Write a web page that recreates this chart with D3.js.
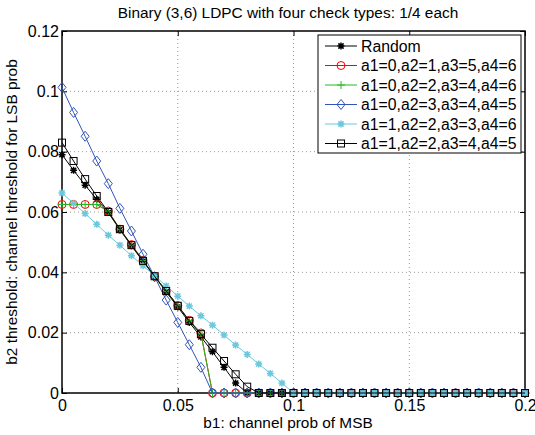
<!DOCTYPE html>
<html><head><meta charset="utf-8">
<script src="https://cdn.jsdelivr.net/npm/d3@7"></script>
<style>
body{margin:0;background:#fff;}
text{font-family:"Liberation Sans",Arial,Helvetica,sans-serif;}
</style></head>
<body><svg id="c" width="535" height="435"></svg>
<script>
const xValues = d3.range(0, 41).map(i => +(i * 0.005).toFixed(3));
const zeros = n => new Array(n).fill(0);
const randomVals = [0.079,0.0738,0.0689,0.0642,0.0598,0.0541,0.0488,0.0436,0.0386,0.0335,0.0285,0.0234,0.0186,0.0137,0.0085,0.0033].concat(zeros(25));
const s1Vals = [0.0625,0.0625,0.0625,0.0625,0.0603,0.0543,0.0492,0.044,0.0387,0.0338,0.029,0.0241,0.0199].concat(zeros(28));
const s2Vals = [0.0625,0.0625,0.0625,0.0625,0.0601,0.0542,0.049,0.0439,0.0387,0.0337,0.0289,0.024,0.0196].concat(zeros(28));
const s3Vals = [0.1013,0.093,0.0851,0.0769,0.0694,0.0612,0.0537,0.046,0.0385,0.0308,0.0234,0.016,0.0085].concat(zeros(28));
const s4Vals = [0.0663,0.0629,0.0595,0.0559,0.0523,0.049,0.0455,0.0422,0.0389,0.0355,0.0321,0.0288,0.0256,0.0225,0.0192,0.0159,0.0128,0.0096,0.0065,0.0033].concat(zeros(21));
const s5Vals = [0.083,0.0769,0.0709,0.0653,0.06,0.0543,0.049,0.0438,0.0387,0.0338,0.0289,0.0239,0.0195,0.015,0.0106,0.0062,0.0021].concat(zeros(24));
const seriesNames = ["Random","a1=0,a2=1,a3=5,a4=6","a1=0,a2=2,a3=4,a4=6","a1=0,a2=3,a3=4,a4=5","a1=1,a2=2,a3=3,a4=6","a1=1,a2=2,a3=4,a4=5"];
const seriesColors = ["#000000","#ff0000","#22bb22","#3355bb","#6cc8dc","#000000"];
const seriesMarkers = ["star","circle","plus","diamond","star","square"];
const xTicks = [0,0.05,0.1,0.15,0.2];
const xTickLabels = ["0","0.05","0.1","0.15","0.2"];
const yTicks = [0,0.02,0.04,0.06,0.08,0.1,0.12];
const yTickLabels = ["0","0.02","0.04","0.06","0.08","0.1","0.12"];
const titleText = "Binary (3,6) LDPC with four check types: 1/4 each";
const xLabel = "b1: channel prob of MSB";
const yLabel = "b2 threshold: channel threshold for LSB prob";

const allVals = [randomVals,s1Vals,s2Vals,s3Vals,s4Vals,s5Vals];
const svg = d3.select("#c");
const L=62, R=525, T=31, B=393;
const x = d3.scaleLinear().domain([0,0.2]).range([L,R]);
const y = d3.scaleLinear().domain([0,0.12]).range([B,T]);

// grid
const g = svg.append("g");
xTicks.forEach(t=>{ if(t>0&&t<0.2) g.append("line").attr("x1",x(t)).attr("x2",x(t)).attr("y1",T).attr("y2",B).attr("stroke","#999").attr("stroke-dasharray","1,3"); });
yTicks.forEach(t=>{ if(t>0&&t<0.12) g.append("line").attr("y1",y(t)).attr("y2",y(t)).attr("x1",L).attr("x2",R).attr("stroke","#999").attr("stroke-dasharray","1,3"); });

// axes
const fmtX = (d)=>xTickLabels[xTicks.indexOf(d)];
const fmtY = (d)=>yTickLabels[yTicks.indexOf(d)];
const ax = svg.append("g").attr("transform",`translate(0,${B})`).call(d3.axisBottom(x).tickValues(xTicks).tickFormat(fmtX).tickSizeInner(-5).tickSizeOuter(0).tickPadding(7));
const ay = svg.append("g").attr("transform",`translate(${L},0)`).call(d3.axisLeft(y).tickValues(yTicks).tickFormat(fmtY).tickSizeInner(-5).tickSizeOuter(0).tickPadding(3));
const axT = svg.append("g").attr("transform",`translate(0,${T})`).call(d3.axisTop(x).tickValues(xTicks).tickFormat("").tickSizeInner(-5).tickSizeOuter(0));
const ayR = svg.append("g").attr("transform",`translate(${R},0)`).call(d3.axisRight(y).tickValues(yTicks).tickFormat("").tickSizeInner(-5).tickSizeOuter(0));
[ax,ay,axT,ayR].forEach(a=>{ a.select(".domain").remove(); a.selectAll("text").attr("font-size",16).attr("fill","#000").style("font-family","'Liberation Sans',Arial,sans-serif"); a.selectAll("line").attr("stroke","#000"); });
svg.append("rect").attr("x",L).attr("y",T).attr("width",R-L).attr("height",B-T).attr("fill","none").attr("stroke","#000").attr("stroke-width",1.5);

// markers
function marker(sel, type, color, cx, cy){
  const m = sel.append("g").attr("transform",`translate(${cx},${cy})`).attr("stroke",color).attr("fill","none").attr("stroke-width",1);
  if(type==="circle") m.append("circle").attr("r",4);
  else if(type==="square") m.append("rect").attr("x",-3.5).attr("y",-3.5).attr("width",7).attr("height",7);
  else if(type==="diamond") m.append("path").attr("d","M0,-5L4,0L0,5L-4,0Z");
  else if(type==="plus") m.append("path").attr("d","M-4,0H4M0,-4V4");
  else if(type==="star") m.append("path").attr("d","M-3.5,0H3.5M0,-3.5V3.5M-2.6,-2.6L2.6,2.6M-2.6,2.6L2.6,-2.6").attr("stroke-width",1.5);
}
const line = d3.line().x((d,i)=>x(xValues[i])).y(d=>y(d));
allVals.forEach((vals,k)=>{
  const sg = svg.append("g");
  sg.append("path").attr("d",line(vals)).attr("fill","none").attr("stroke",seriesColors[k]).attr("stroke-width",1);
  vals.forEach((v,i)=>marker(sg, seriesMarkers[k], seriesColors[k], x(xValues[i]), y(v)));
});

// legend
const lg = svg.append("g");
lg.append("rect").attr("x",318).attr("y",35).attr("width",203).attr("height",118).attr("fill","#fff").attr("stroke","#000").attr("stroke-width",1);
seriesNames.forEach((n,k)=>{
  const yy = 46 + k*19.5;
  lg.append("line").attr("x1",325).attr("x2",357).attr("y1",yy).attr("y2",yy).attr("stroke",seriesColors[k]);
  marker(lg, seriesMarkers[k], seriesColors[k], 341, yy);
  lg.append("text").attr("x",361).attr("y",yy+5.5).attr("font-size",15.8).text(n);
});

// titles
svg.append("text").attr("x",288).attr("y",18).attr("text-anchor","middle").attr("font-size",15.4).text(titleText);
svg.append("text").attr("x",288).attr("y",428).attr("text-anchor","middle").attr("font-size",15.4).text(xLabel);
svg.append("text").attr("transform",`translate(17,${(T+B)/2}) rotate(-90)`).attr("text-anchor","middle").attr("font-size",15.4).text(yLabel);
</script></body></html>
